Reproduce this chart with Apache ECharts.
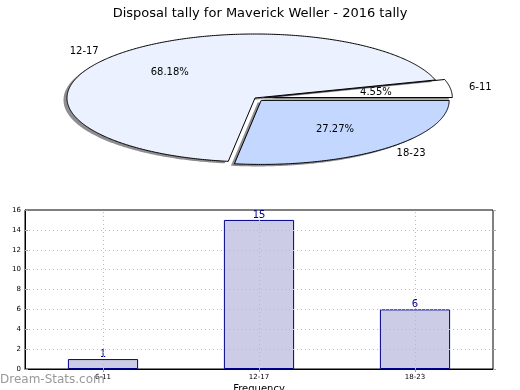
<!DOCTYPE html>
<html>
<head>
<meta charset="utf-8">
<script src="https://cdn.jsdelivr.net/npm/echarts@6/dist/echarts.min.js"></script>
<style>html,body{margin:0;padding:0;background:#fff}#c{width:520px;height:390px}</style>
</head>
<body>
<div id="c"></div>
<script>
const titleText = 'Disposal tally for Maverick Weller - 2016 tally';
const pieCats = ['6-11', '12-17', '18-23'];
const pieValues = [1, 15, 6];
const pieColors = ['#FFFFFF', '#EBF1FF', '#C4D8FF'];
const pieExplode = [0.05, 0, 0.05];
const barCats = ['6-11', '12-17', '18-23'];
const barValues = [1, 15, 6];
const yTicks = [2, 4, 6, 8, 10, 12, 14];

const FONT = 'DejaVu Sans';
const PC = { cx: 255, cy: 98, rx: 188, ry: 64 };

function renderPie(params, api) {
  const i = params.dataIndex;
  const total = pieValues.reduce((a, b) => a + b, 0);
  let start = 0;
  for (let k = 0; k < i; k++) start += pieValues[k];
  const v = api.value(0);
  const a0 = start / total * 2 * Math.PI;
  const a1 = (start + v) / total * 2 * Math.PI;
  const mid = (a0 + a1) / 2;
  const cx = PC.cx + pieExplode[i] * PC.rx * Math.cos(mid);
  const cy = PC.cy - pieExplode[i] * PC.ry * Math.sin(mid);
  const n = Math.max(8, Math.ceil((a1 - a0) / 0.01));
  const pts = [[cx, cy]];
  for (let j = 0; j <= n; j++) {
    const a = a0 + (a1 - a0) * j / n;
    pts.push([cx + PC.rx * Math.cos(a), cy - PC.ry * Math.sin(a)]);
  }
  const sh = pts.map(p => [p[0] - 3.5, p[1] + 2]);
  const lc = Math.cos(mid), ls = Math.sin(mid);
  const lx = cx + 1.1 * PC.rx * lc, ly = cy - 1.1 * PC.ry * ls;
  const px = cx + 0.6 * PC.rx * lc, py = cy - 0.6 * PC.ry * ls;
  return {
    type: 'group',
    children: [
      { type: 'polygon', shape: { points: sh }, style: { fill: 'rgba(50,50,55,0.55)', stroke: null } },
      { type: 'polygon', shape: { points: pts }, style: { fill: pieColors[i], stroke: '#000', lineWidth: 1 } },
      { type: 'text', style: { x: lx, y: ly, text: pieCats[i], fill: '#000', font: '10px "DejaVu Sans"', align: lc < 0 ? 'right' : 'left', verticalAlign: 'middle' } },
      { type: 'text', style: { x: px, y: py, text: (v / total * 100).toFixed(2) + '%', fill: '#000', font: '10px "DejaVu Sans"', align: 'center', verticalAlign: 'middle' } }
    ]
  };
}

const chart = echarts.init(document.getElementById('c'), null, { renderer: 'canvas' });
chart.setOption({
  animation: false,
  backgroundColor: '#fff',
  textStyle: { fontFamily: FONT },
  title: {
    text: titleText, left: 'center', top: 2,
    textStyle: { fontSize: 13, fontWeight: 'normal', color: '#000', fontFamily: FONT }
  },
  grid: { left: 25, right: 27, top: 210, bottom: 21, containLabel: false, outerBoundsMode: 'none', show: true, borderColor: '#000', borderWidth: 1, backgroundColor: 'transparent' },
  xAxis: {
    type: 'category', data: barCats,
    axisLine: { lineStyle: { color: '#000' } },
    axisTick: { show: true, alignWithLabel: true, length: 3, lineStyle: { color: '#999' } },
    axisLabel: { fontSize: 7, color: '#000', margin: 5, fontFamily: FONT },
    splitLine: { show: false },
    name: 'Frequency', nameLocation: 'middle', nameGap: 15,
    nameTextStyle: { fontSize: 10, color: '#000', fontFamily: FONT }
  },
  yAxis: [{
    type: 'value', min: 0, max: 16, interval: 2,
    axisLine: { show: true, lineStyle: { color: '#000' } },
    axisTick: { show: true, inside: true, length: 3, lineStyle: { color: '#999' } },
    axisLabel: { fontSize: 7, color: '#000', margin: 4, fontFamily: FONT },
    splitLine: { show: false },
    name: 'Stat Intervals', nameLocation: 'middle', nameGap: 14, nameRotate: 90,
    nameTextStyle: { fontSize: 11, color: '#000', fontFamily: FONT }
  }, {
    type: 'value', min: 0, max: 16, interval: 2, position: 'right',
    axisLine: { show: false },
    axisTick: { show: true, length: 3, lineStyle: { color: '#aaa' } },
    axisLabel: { show: false },
    splitLine: { show: false }
  }],
  graphic: [{
    type: 'text', left: 0, top: 374,
    style: { text: 'Dream-Stats.com', fill: '#999', font: '12px "DejaVu Sans"' },
    z: 100
  }],
  series: [{
    type: 'custom',
    coordinateSystem: 'none',
    renderItem: renderPie,
    data: pieValues.map((v, i) => [v, i]),
    silent: true
  }, {
    type: 'bar',
    data: barValues,
    barWidth: '45%',
    itemStyle: { color: '#CCCCE6', borderColor: '#00008B', borderWidth: 1 },
    label: { show: true, position: 'top', distance: 0, color: '#00008B', fontSize: 10, fontFamily: FONT },
    markLine: {
      silent: true, symbol: ['none', 'none'], label: { show: false },
      lineStyle: { type: [1, 3], color: '#bbb', width: 1 },
      data: yTicks.map(t => ({ yAxis: t })).concat(barCats.map(c => ({ xAxis: c })))
    }
  }]
});
</script>
</body>
</html>
